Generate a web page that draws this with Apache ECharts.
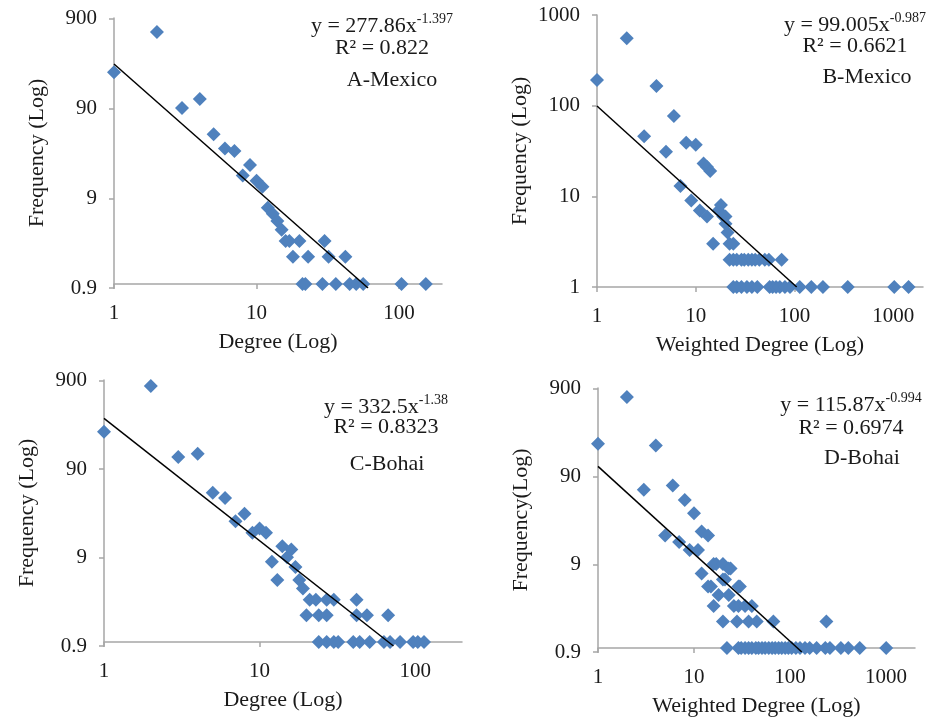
<!DOCTYPE html>
<html>
<head>
<meta charset="utf-8">
<title>Degree distributions – Mexico and Bohai</title>
<script src="https://cdn.jsdelivr.net/npm/echarts@6/dist/echarts.min.js"></script>
<style>
  html, body { margin: 0; padding: 0; background: #ffffff; }
  #chart { width: 935px; height: 719px; }
</style>
</head>
<body>
<div id="chart"></div>
<script>
// A-Mexico: node degree vs. number of nodes
const aDegree    = [1, 2, 3, 4, 5, 6, 7, 8, 9, 10, 11, 12, 13, 14, 15, 16, 17, 20, 18, 23, 30, 32, 42, 21, 22, 29, 36, 45, 50, 56, 104, 154];
const aFrequency = [224, 629, 90, 113, 46, 32, 30, 16, 21, 14, 12, 7, 6, 5, 4, 3, 3, 3, 2, 2, 3, 2, 2, 1, 1, 1, 1, 1, 1, 1, 1, 1];

// B-Mexico: weighted degree vs. number of nodes
const bDegree    = [1, 2, 3, 4, 5, 6, 7, 8, 9, 10, 11, 12, 13, 14, 13, 15, 17, 18, 19, 20, 20, 21, 22, 24,
                    22, 24, 26, 29, 31, 34, 37, 40, 44, 50, 55, 74,
                    24, 26, 29, 33, 37, 42, 56, 60, 65, 71, 80, 90, 113, 148, 194, 346, 1023, 1429];
const bFrequency = [192, 553, 46, 165, 31, 77, 13, 39, 9, 37, 7, 23, 21, 19, 6, 3, 7, 8, 6, 6, 5, 4, 3, 3,
                    2, 2, 2, 2, 2, 2, 2, 2, 2, 2, 2, 2,
                    1, 1, 1, 1, 1, 1, 1, 1, 1, 1, 1, 1, 1, 1, 1, 1, 1, 1];

// C-Bohai: node degree vs. number of nodes
const cDegree    = [1, 2, 3, 4, 5, 6, 7, 8, 9, 10, 11, 12, 13, 14, 15, 16, 17, 18, 19,
                    21, 23, 27, 30, 42, 20, 24, 27, 42, 49, 67,
                    24, 27, 30, 32, 40, 44, 51, 63, 69, 80, 97, 104, 114];
const cFrequency = [234, 771, 122, 133, 48, 42, 23, 28, 17, 19, 17, 8, 5, 12, 9, 11, 7, 5, 4,
                    3, 3, 3, 3, 3, 2, 2, 2, 2, 2, 2,
                    1, 1, 1, 1, 1, 1, 1, 1, 1, 1, 1, 1, 1];

// D-Bohai: weighted degree vs. number of nodes
const dDegree    = [1, 2, 3, 4, 5, 6, 7, 8, 9, 10, 11, 12, 14, 12,
                    14, 15, 16, 17, 16, 18, 20, 20, 21, 23, 23, 24, 26, 29, 30, 29, 34, 40,
                    20, 28, 37, 45, 67, 239,
                    22, 29, 31, 34, 37, 40, 44, 47, 51, 55, 60, 65, 70, 76, 82, 89, 96, 104, 115, 127,
                    143, 160, 189, 233, 260, 338, 404, 532, 1003];
const dFrequency = [209, 711, 63, 200, 19, 70, 16, 48, 13, 34, 13, 21, 19, 7,
                    5, 5, 9, 9, 3, 4, 9, 6, 6, 8, 4, 8, 3, 5, 5, 3, 3, 3,
                    2, 2, 2, 2, 2, 2,
                    1, 1, 1, 1, 1, 1, 1, 1, 1, 1, 1, 1, 1, 1, 1, 1, 1, 1, 1, 1,
                    1, 1, 1, 1, 1, 1, 1, 1, 1];

// Power-law trendlines y = a * x^b with their R²
const fitCoef  = [[277.86, -1.397], [99.005, -0.987], [332.5, -1.38], [115.87, -0.994]];
const fitCoefText = [['277.86', '-1.397'], ['99.005', '-0.987'], ['332.5', '-1.38'], ['115.87', '-0.994']];
const fitR2    = ['0.822', '0.6621', '0.8323', '0.6974'];
const panelNames = ['A-Mexico', 'B-Mexico', 'C-Bohai', 'D-Bohai'];
const xNames = ['Degree (Log)', 'Weighted Degree (Log)', 'Degree (Log)', 'Weighted Degree (Log)'];
const yNames = ['Frequency (Log)', 'Frequency (Log)', 'Frequency (Log)', 'Frequency(Log)'];

// Axis ranges (log scale, one tick per decade counted from the minimum)
const xMaxes = [200, 2000, 200, 2000];
const xTickValues = [[1, 10, 100], [1, 10, 100, 1000], [1, 10, 100], [1, 10, 100, 1000]];
const yMins  = [0.9, 1, 0.9, 0.9];
const yMaxes = [900, 1000, 900, 900];
// The horizontal axis crosses the vertical one at a frequency of 1
const xCrossAt = 1;

const FONT = '"Liberation Serif", "Times New Roman", serif';
const BLUE = '#4F81BD';
const AXIS_GREY = '#a6a6a6';
const INK = '#1a1a1a';

const seriesX = [aDegree, bDegree, cDegree, dDegree];
const seriesY = [aFrequency, bFrequency, cFrequency, dFrequency];

// Panel layout: plot rectangles and text anchors
const layout = [
  { grid: { left: 114, top: 18,  width: 328, height: 270 }, eq: [382, 25], r2: [382, 48], tag: [392, 80] },
  { grid: { left: 597, top: 15,  width: 326, height: 272 }, eq: [855, 24], r2: [855, 46], tag: [867, 77] },
  { grid: { left: 104, top: 380, width: 358, height: 266 }, eq: [386, 406], r2: [386, 427], tag: [387, 464] },
  { grid: { left: 598, top: 388, width: 317, height: 264 }, eq: [851, 404], r2: [851, 428], tag: [862, 458] }
];

// Decade ticks are stepped in log space, so show them with one significant digit
const tickFormatter = v => String(Number(Number(v).toPrecision(1)));

const grids = [], xAxes = [], yAxes = [], series = [], graphics = [];

layout.forEach((L, i) => {
  grids.push(Object.assign({ containLabel: false }, L.grid));

  xAxes.push({
    gridIndex: i,
    type: 'log',
    logBase: 10,
    min: 1,
    max: xMaxes[i],
    interval: 1,
    offset: 0,
    name: xNames[i],
    nameLocation: 'middle',
    nameGap: 47,
    nameMoveOverlap: false,
    nameTextStyle: { fontFamily: FONT, fontSize: 22, color: INK },
    axisLine: { onZero: false, lineStyle: { color: AXIS_GREY, width: 1.5 } },
    axisTick: { show: true, inside: false, length: 5, customValues: xTickValues[i], lineStyle: { color: AXIS_GREY, width: 1.5 } },
    axisLabel: { fontFamily: FONT, fontSize: 21, color: INK, margin: 19, showMaxLabel: false, formatter: tickFormatter },
    splitLine: { show: false },
    minorTick: { show: false }
  });

  // When the minimum is not a power of ten the last stepped tick and the max
  // nearly coincide; keep only one label there.
  const minIsDecade = Number.isInteger(Math.log10(yMins[i]));
  yAxes.push({
    gridIndex: i,
    type: 'log',
    logBase: 10,
    min: yMins[i],
    max: yMaxes[i],
    interval: 1,
    name: yNames[i],
    nameLocation: 'middle',
    nameGap: 66,
    nameMoveOverlap: false,
    nameTextStyle: { fontFamily: FONT, fontSize: 22, color: INK },
    axisLine: { onZero: false, lineStyle: { color: AXIS_GREY, width: 1.5 } },
    axisTick: { show: true, inside: false, length: 5, lineStyle: { color: AXIS_GREY, width: 1.5 } },
    axisLabel: { fontFamily: FONT, fontSize: 21, color: INK, margin: 17, showMaxLabel: minIsDecade, formatter: tickFormatter },
    splitLine: { show: false },
    minorTick: { show: false }
  });

  series.push({
    type: 'scatter',
    xAxisIndex: i,
    yAxisIndex: i,
    symbol: 'diamond',
    symbolSize: 14,
    itemStyle: { color: BLUE, opacity: 1 },
    data: seriesX[i].map((x, k) => [x, seriesY[i][k]]),
    z: 2
  });

  // Trendline: straight on log-log axes, from x = 1 until it meets the plot bottom
  const [a, b] = fitCoef[i];
  const xEnd = Math.pow(yMins[i] / a, 1 / b);
  series.push({
    type: 'line',
    xAxisIndex: i,
    yAxisIndex: i,
    data: [[1, a], [xEnd, a * Math.pow(xEnd, b)]],
    symbol: 'none',
    silent: true,
    lineStyle: { color: '#000000', width: 1.5 },
    z: 3
  });

  const baseText = { fontFamily: FONT, fontSize: 22, fill: INK, align: 'center', verticalAlign: 'middle' };
  graphics.push({
    type: 'text', x: L.eq[0], y: L.eq[1], z: 10,
    style: Object.assign({}, baseText, {
      text: '{m|y = ' + fitCoefText[i][0] + 'x}{s|' + fitCoefText[i][1] + '}',
      rich: {
        m: { fontFamily: FONT, fontSize: 22, fill: INK, verticalAlign: 'bottom', lineHeight: 25 },
        s: { fontFamily: FONT, fontSize: 14, fill: INK, verticalAlign: 'top', lineHeight: 25 }
      }
    })
  });
  graphics.push({
    type: 'text', x: L.r2[0], y: L.r2[1], z: 10,
    style: Object.assign({}, baseText, { text: 'R² = ' + fitR2[i] })
  });
  graphics.push({
    type: 'text', x: L.tag[0], y: L.tag[1], z: 10,
    style: Object.assign({}, baseText, { text: panelNames[i] })
  });
});

const chart = echarts.init(document.getElementById('chart'), null, { renderer: 'canvas' });
chart.setOption({
  animation: false,
  backgroundColor: '#ffffff',
  grid: grids,
  xAxis: xAxes,
  yAxis: yAxes,
  series: series,
  graphic: graphics
});

// Lift each horizontal axis from the plot bottom up to where frequency = 1
const crossOffsets = yMins.map((yMin, i) => {
  const bottomPx = chart.convertToPixel({ yAxisIndex: i }, yMin);
  const crossPx = chart.convertToPixel({ yAxisIndex: i }, xCrossAt);
  return crossPx - bottomPx;
});
chart.setOption({ xAxis: crossOffsets.map(o => ({ offset: o })) });
</script>
</body>
</html>
